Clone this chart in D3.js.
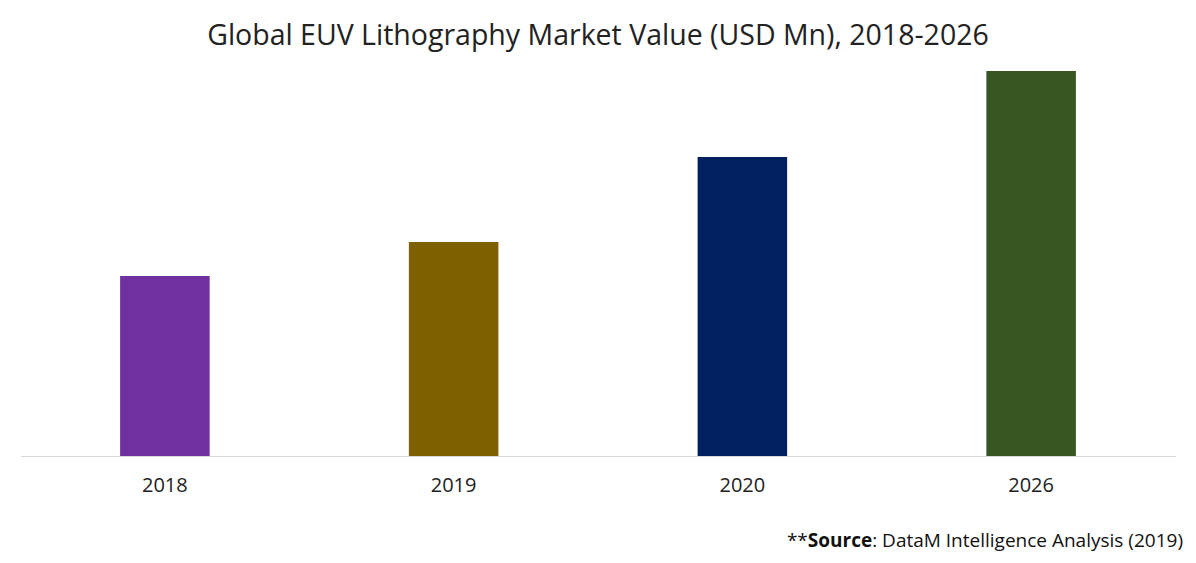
<!DOCTYPE html>
<html><head><meta charset="utf-8">
<script src="https://cdn.jsdelivr.net/npm/d3@7"></script>
<style>body{margin:0;background:#fff}svg{font-family:"Open Sans",Lato,sans-serif}</style>
</head><body>
<svg id="chart" width="1196" height="563"></svg>
<script>
// values (no axis shown, relative units)
var years = ["2018", "2019", "2020", "2026"];
var values = [180, 214, 299, 385];
var colors = ["#7030a0", "#7f6000", "#002060", "#375623"];

var svg = d3.select("#chart");
var baseY = 456;

var x = d3.scaleBand().domain(years).range([20.5, 1175.5]).paddingInner(0.69).paddingOuter(0.345);
var y = d3.scaleLinear().domain([0, 385]).range([baseY, 71]);

svg.append("text")
    .attr("x", 598).attr("y", 45)
    .attr("text-anchor", "middle")
    .attr("font-size", 28.5)
    .attr("fill", "#222")
    .text("Global EUV Lithography Market Value (USD Mn), 2018-2026");

svg.selectAll(".bar")
    .data(values)
    .enter()
    .append("rect")
      .attr("class", "bar")
      .attr("x", function(d, i){ return x(years[i]); })
      .attr("y", function(d){ return y(d); })
      .attr("width", x.bandwidth())
      .attr("height", function(d){ return baseY - y(d); })
      .attr("fill", function(d, i){ return colors[i]; });

var axis = svg.append("g").attr("transform", "translate(0," + baseY + ")")
    .call(d3.axisBottom(x).tickSize(0).tickPadding(22));
axis.select(".domain").attr("stroke", "#d9d9d9");
axis.selectAll("text").attr("font-size", 20).attr("fill", "#222").attr("font-family", "'Open Sans',Lato,sans-serif");

var src = svg.append("text")
    .attr("x", 1183).attr("y", 547)
    .attr("text-anchor", "end")
    .attr("font-size", 19)
    .attr("fill", "#111");
src.append("tspan").text("**");
src.append("tspan").attr("font-weight", "bold").text("Source");
src.append("tspan").text(": DataM Intelligence Analysis (2019)");
</script>
</body></html>
